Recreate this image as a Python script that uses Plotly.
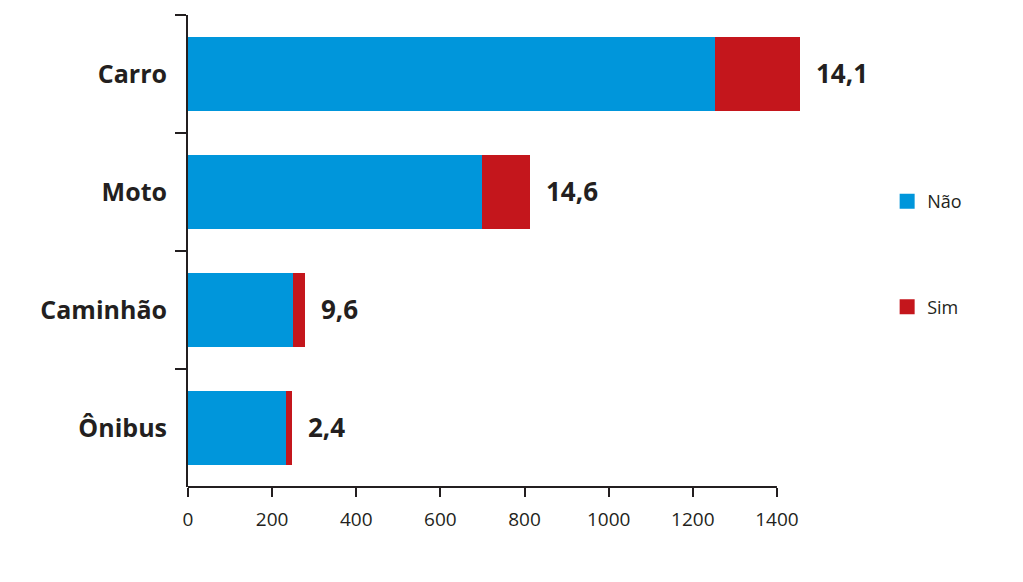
import plotly.graph_objects as go

categories = ["Carro", "Moto", "Caminhão", "Ônibus"]
nao = [1252, 698, 249, 233]
sim = [204, 115, 28, 15]
pct_labels = ["14,1", "14,6", "9,6", "2,4"]
x_ticks = [0, 200, 400, 600, 800, 1000, 1200, 1400]
series_names = ["Não", "Sim"]

BLUE = "#0096db"
RED = "#c4161c"
TXT = "#231f20"
FONT = "Open Sans"

fig = go.Figure()
for vals, name, col in zip([nao, sim], series_names, [BLUE, RED]):
    fig.add_trace(go.Bar(y=categories, x=vals, orientation="h", name=name,
                         marker=dict(color=col, line=dict(width=0)),
                         showlegend=False, width=0.62))
# legend-only markers (larger square swatches)
for name, col in zip(series_names, [BLUE, RED]):
    fig.add_trace(go.Scatter(x=[None], y=[None], mode="markers", name=name,
                             marker=dict(color=col, symbol="square", size=15),
                             legendgroup=name))

totals = [a + b for a, b in zip(nao, sim)]
for cat, tot, lab in zip(categories, totals, pct_labels):
    fig.add_annotation(x=tot, y=cat, text="<b>" + lab + "</b>", showarrow=False,
                       xanchor="left", xshift=14, yshift=1,
                       font=dict(family=FONT, size=26, color=TXT))

# x-axis baseline only up to 1400
fig.add_shape(type="line", xref="x", yref="paper", x0=-5, x1=1400, y0=0, y1=0,
              line=dict(color=TXT, width=2))

fig.update_layout(
    barmode="stack",
    width=1023, height=582,
    margin=dict(l=188, r=204, t=15, b=95),
    paper_bgcolor="white", plot_bgcolor="white",
    font=dict(family=FONT, color=TXT),
    legend=dict(x=1.108, y=0.644, xanchor="left", yanchor="top",
                traceorder="grouped", tracegroupgap=79,
                font=dict(family=FONT, size=18, color=TXT),
                itemwidth=30, bgcolor="rgba(0,0,0,0)"),
    xaxis=dict(range=[0, 1500], tickvals=x_ticks, ticks="outside", ticklen=9,
               tickwidth=2, tickcolor=TXT, showline=False,
               showgrid=False, zeroline=False, ticklabelstandoff=6,
               tickfont=dict(family=FONT, size=19, color=TXT)),
    yaxis=dict(autorange="reversed", tickson="boundaries", ticks="outside",
               ticklen=11, tickwidth=2, tickcolor=TXT, showline=True,
               linecolor=TXT, linewidth=2, showgrid=False,
               ticklabelstandoff=14,
               tickfont=dict(family=FONT, size=25, color=TXT, weight="bold")),
)

fig.write_html("out.html")
